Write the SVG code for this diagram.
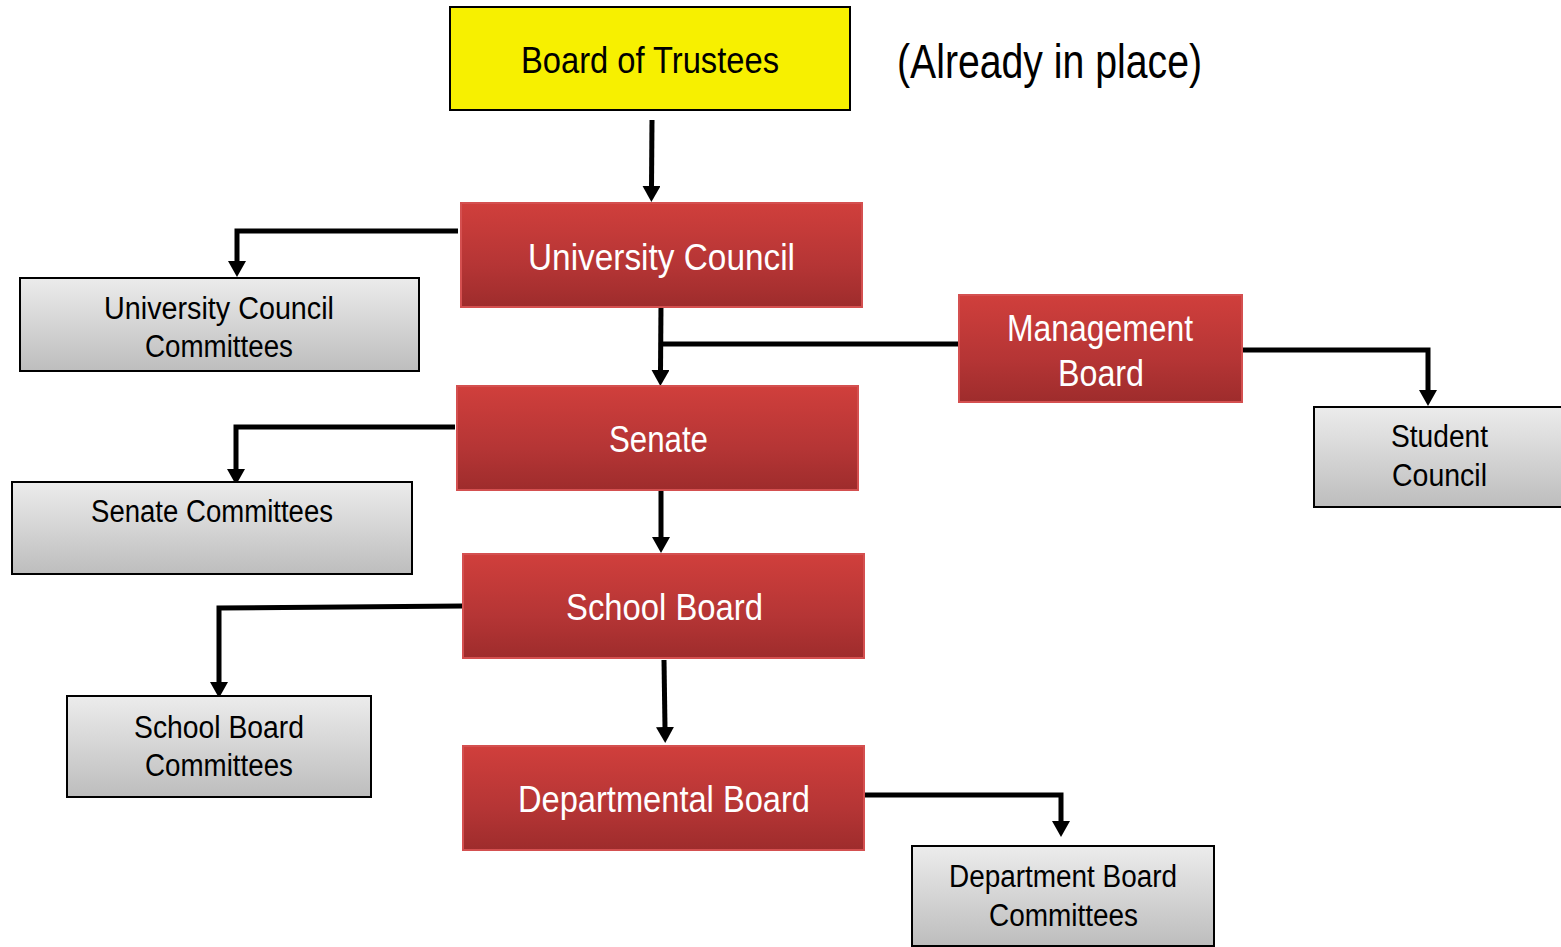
<svg xmlns="http://www.w3.org/2000/svg" width="1561" height="947" viewBox="0 0 1561 947">
<defs>
<linearGradient id="red" x1="0" y1="0" x2="0" y2="1">
<stop offset="0" stop-color="#d03f3c"/>
<stop offset="0.6" stop-color="#b53535"/>
<stop offset="1" stop-color="#9e2c2c"/>
</linearGradient>
<linearGradient id="gray" x1="0" y1="0" x2="0" y2="1">
<stop offset="0" stop-color="#ececec"/>
<stop offset="1" stop-color="#bdbdbd"/>
</linearGradient>
<marker id="ah" markerUnits="userSpaceOnUse" markerWidth="20" markerHeight="20" refX="1" refY="9" orient="auto">
<path d="M0,0 L16,9 L0,18 Z" fill="#000"/>
</marker>
<style>
.red{fill:url(#red);stroke:#d45050;stroke-width:2}
.gray{fill:url(#gray);stroke:#000;stroke-width:2}
.yel{fill:#f7f000;stroke:#000;stroke-width:2}
text{font-family:'Liberation Sans',Arial,sans-serif;text-anchor:middle}
.wt{fill:#fff;font-size:37px}
.bt{fill:#000;font-size:31px}
.c{fill:none;stroke:#000;stroke-width:5}
.ca{fill:none;stroke:#000;stroke-width:5;marker-end:url(#ah)}
</style>
</defs>
<g id="connectors">
<path class="ca" d="M652,120 L651.5,187"/>
<path class="ca" d="M458,231 L237,231 L237,262"/>
<path class="ca" d="M661,305 L660.5,371"/>
<path class="c" d="M660,344 L961,344"/>
<path class="ca" d="M1238,350 L1428,350 L1428,391"/>
<path class="ca" d="M455,427 L236,427 L236,470"/>
<path class="ca" d="M661,491 L661,538"/>
<path class="ca" d="M463,606 L219,608 L219,683"/>
<path class="ca" d="M664,660 L665,728"/>
<path class="ca" d="M865,795 L1061,795 L1061,822"/>
</g>
<g id="board-of-trustees">
<rect class="yel" x="450" y="7" width="400" height="103"/>
<text x="650" y="73" style="font-size:37px" textLength="258" lengthAdjust="spacingAndGlyphs">Board of Trustees</text>
</g>
<g id="already-in-place">
<text x="1049.5" y="78" style="font-size:48px" textLength="305" lengthAdjust="spacingAndGlyphs">(Already in place)</text>
</g>
<g id="university-council">
<rect class="red" x="461" y="203" width="401" height="104"/>
<text class="wt" x="661.5" y="270" textLength="267" lengthAdjust="spacingAndGlyphs">University Council</text>
</g>
<g id="university-council-committees">
<rect class="gray" x="20" y="278" width="399" height="93"/>
<text class="bt" x="219" y="319" textLength="230" lengthAdjust="spacingAndGlyphs">University Council</text>
<text class="bt" x="219" y="357" textLength="148" lengthAdjust="spacingAndGlyphs">Committees</text>
</g>
<g id="management-board">
<rect class="red" x="959" y="295" width="283" height="107"/>
<text class="wt" x="1100" y="341" textLength="186" lengthAdjust="spacingAndGlyphs">Management</text>
<text class="wt" x="1101" y="386" textLength="86" lengthAdjust="spacingAndGlyphs">Board</text>
</g>
<g id="student-council">
<rect class="gray" x="1314" y="407" width="250" height="100"/>
<text class="bt" x="1439.5" y="447" textLength="97" lengthAdjust="spacingAndGlyphs">Student</text>
<text class="bt" x="1439.5" y="486" textLength="95" lengthAdjust="spacingAndGlyphs">Council</text>
</g>
<g id="senate">
<rect class="red" x="457" y="386" width="401" height="104"/>
<text class="wt" x="658.5" y="452" textLength="99" lengthAdjust="spacingAndGlyphs">Senate</text>
</g>
<g id="senate-committees">
<rect class="gray" x="12" y="482" width="400" height="92"/>
<text class="bt" x="212" y="522" textLength="242" lengthAdjust="spacingAndGlyphs">Senate Committees</text>
</g>
<g id="school-board">
<rect class="red" x="463" y="554" width="401" height="104"/>
<text class="wt" x="664.5" y="620" textLength="197" lengthAdjust="spacingAndGlyphs">School Board</text>
</g>
<g id="school-board-committees">
<rect class="gray" x="67" y="696" width="304" height="101"/>
<text class="bt" x="219" y="738" textLength="170" lengthAdjust="spacingAndGlyphs">School Board</text>
<text class="bt" x="219" y="776" textLength="148" lengthAdjust="spacingAndGlyphs">Committees</text>
</g>
<g id="departmental-board">
<rect class="red" x="463" y="746" width="401" height="104"/>
<text class="wt" x="664" y="812" textLength="292" lengthAdjust="spacingAndGlyphs">Departmental Board</text>
</g>
<g id="department-board-committees">
<rect class="gray" x="912" y="846" width="302" height="100"/>
<text class="bt" x="1063" y="887" textLength="228" lengthAdjust="spacingAndGlyphs">Department Board</text>
<text class="bt" x="1063.5" y="926" textLength="149" lengthAdjust="spacingAndGlyphs">Committees</text>
</g>
</svg>
